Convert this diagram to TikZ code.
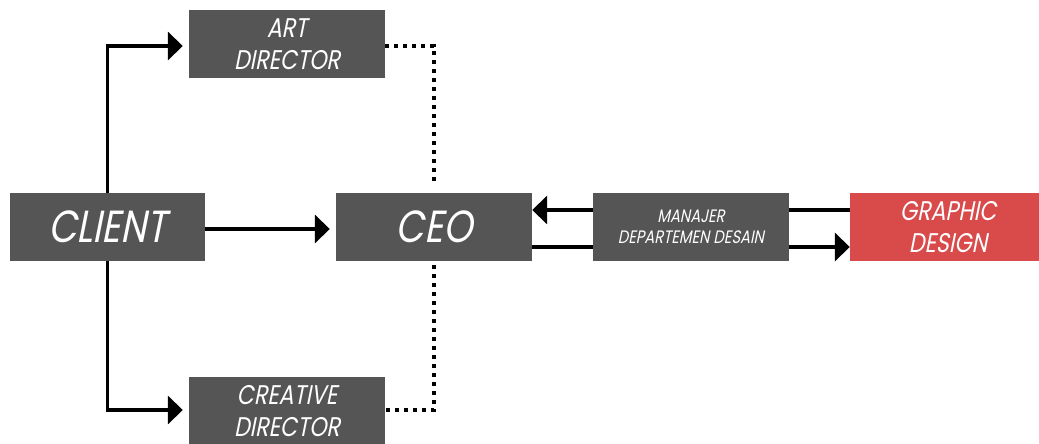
\documentclass[tikz,border=0pt]{standalone}
\usepackage{fontspec}
\newfontfamily\labfont{Poppins}[FakeSlant=0.2,FakeStretch=0.82]
\usetikzlibrary{arrows.meta}
\definecolor{boxgray}{RGB}{85,85,85}
\definecolor{boxred}{RGB}{217,74,74}
\begin{document}
\begin{tikzpicture}[x=1pt,y=-1pt,
  box/.style={fill=boxgray, minimum width=196pt, minimum height=68pt, inner sep=0pt,
    text=white, align=center},
  big/.style={font=\labfont\fontsize{45}{48}\selectfont},
  mid/.style={font=\labfont\fontsize{27}{32}\selectfont},
  small/.style={font=\labfont\fontsize{18}{21}\selectfont},
  arr/.style={line width=3.5pt, -{Triangle[length=15pt,width=28pt]}},
  link/.style={line width=3.5pt},
  dots/.style={line width=4pt, dash pattern=on 4pt off 5pt},
]
\useasboundingbox (0,0) rectangle (1039,444);
\fill[white] (0,0) rectangle (1039,444);
\clip (0,0) rectangle (1039,444);
\node[box,big,minimum width=195pt] (client) at (107.5,227) {CLIENT};
\node[box,mid] (art) at (287,44) {ART\\DIRECTOR};
\node[box,mid] (creative) at (287,411) {CREATIVE\\DIRECTOR};
\node[box,big] (ceo) at (434,227) {CEO};
\node[box,small] (man) at (691,227) {MANAJER\\DEPARTEMEN DESAIN};
\node[box,mid,fill=boxred] (gd) at (948,227) {GRAPHIC\\DESIGN};
\draw[arr, shorten >=6pt] (client.north) |- ([yshift=-2pt]art.west);
\draw[arr, shorten >=6pt] (client.south) |- ([yshift=1pt]creative.west);
\draw[arr, shorten >=6pt] ([yshift=-2pt]client.east) -- ([yshift=-2pt]ceo.west);
\draw[dots] ([yshift=-2pt]art.east) -| ([yshift=8pt]ceo.north);
\draw[dots] ([yshift=-4pt]ceo.south) |- ([yshift=1pt]creative.east);
\draw[link] ([yshift=17pt]gd.west) -- ([yshift=17pt]man.east);
\draw[arr] ([yshift=17pt]man.west) -- ([yshift=17pt]ceo.east);
\draw[link] ([yshift=-20pt]ceo.east) -- ([yshift=-20pt]man.west);
\draw[arr] ([yshift=-20pt]man.east) -- ([yshift=-20pt]gd.west);
\end{tikzpicture}
\end{document}
